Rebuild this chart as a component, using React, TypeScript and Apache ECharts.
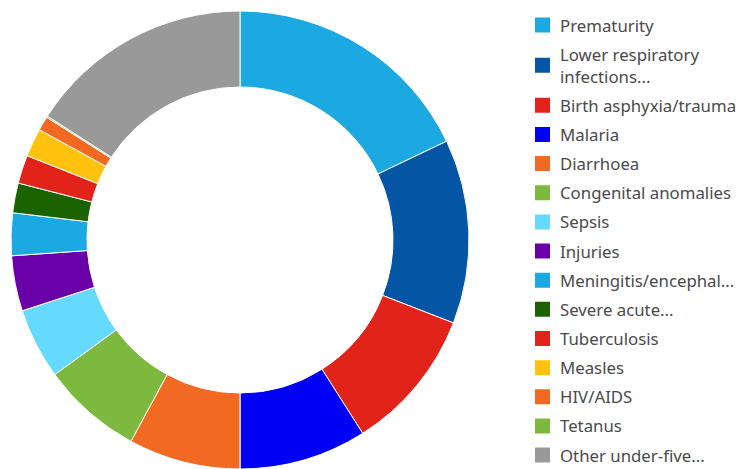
import React, { useEffect, useRef } from "react";
import * as echarts from "echarts";

const categories = [
  "Prematurity",
  "Lower respiratory infections...",
  "Birth asphyxia/trauma",
  "Malaria",
  "Diarrhoea",
  "Congenital anomalies",
  "Sepsis",
  "Injuries",
  "Meningitis/encephal...",
  "Severe acute...",
  "Tuberculosis",
  "Measles",
  "HIV/AIDS",
  "Tetanus",
  "Other under-five...",
];

const values = [17.9, 13.0, 10.1, 9.0, 7.9, 7.1, 5.0, 3.9, 3.0, 2.1, 2.0, 2.0, 1.0, 0.1, 15.9];

const colors = [
  "#1CA9E1",
  "#0455A4",
  "#E2231A",
  "#0000F5",
  "#F26A21",
  "#7DB93E",
  "#66D9FF",
  "#6A00A8",
  "#1CA9E1",
  "#1A6300",
  "#E2231A",
  "#FFC20E",
  "#F26A21",
  "#7DB93E",
  "#999999",
];

export default function App() {
  const ref = useRef<HTMLDivElement>(null);
  useEffect(() => {
    if (!ref.current) return;
    const chart = echarts.init(ref.current, undefined, { renderer: "svg" });
    chart.setOption({
      animation: false,
      legend: {
        orient: "vertical",
        left: 533,
        top: 14,
        padding: 0,
        height: 455,
        itemWidth: 17,
        itemHeight: 17,
        itemGap: 7.15,
        icon: "rect",
        data: categories,
        formatter: (name: string) =>
          name === "Lower respiratory infections..." ? "Lower respiratory\ninfections..." : name,
        textStyle: {
          fontFamily: "Noto Sans",
          fontSize: 16.8,
          lineHeight: 22,
          color: "#4a4a4a",
          padding: [0, 0, 0, 4],
        },
      },
      series: [
        {
          type: "pie",
          center: [240, 240],
          radius: [153, 229],
          startAngle: 90,
          clockwise: true,
          label: { show: false },
          labelLine: { show: false },
          emphasis: { disabled: true },
          itemStyle: { borderColor: "#fff", borderWidth: 1 },
          data: categories.map((c, i) => ({
            name: c,
            value: values[i],
            itemStyle: { color: colors[i] },
          })),
        },
      ],
    });
    return () => chart.dispose();
  }, []);
  return (
    <div
      ref={ref}
      style={{ position: "absolute", left: 0, top: 0, width: 739, height: 469 }}
    />
  );
}
